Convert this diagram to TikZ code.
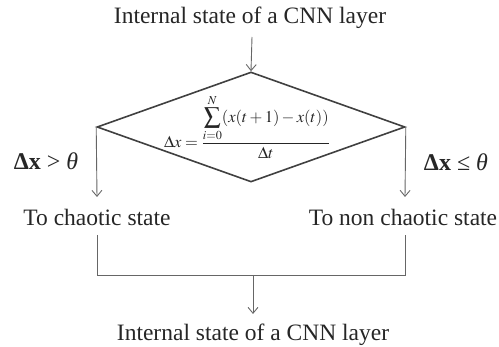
\documentclass[tikz,border=0pt]{standalone}
\usepackage{amsmath}
\usepackage{mathptmx}
\usepackage[no-math]{fontspec}
\setmainfont{Liberation Serif}
\usetikzlibrary{arrows.meta,shapes.geometric}
\begin{document}
\begin{tikzpicture}[x=1pt,y=-1pt,
  txt/.style={font=\fontsize{23.5}{27}\selectfont, text=black!85, inner sep=0pt},
  lab/.style={font=\fontsize{24}{28}\selectfont, text=black!85, inner sep=0pt},
  line/.style={draw=black!60, line width=0.9pt},
  arr/.style={line, -{Straight Barb[length=6pt,width=10pt]}},
  decision/.style={draw=black!75, line width=1.6pt, diamond, inner sep=0pt,
    minimum width=308pt, minimum height=110pt}]
\useasboundingbox (0,0) rectangle (499,347);
\node[txt] (top) at (250,18) {Internal state of a CNN layer};
\node[decision] (d) at (251,127) {};
\node[inner sep=0pt, font=\fontsize{16.5}{19}\selectfont, text=black!85] (f) at (247,127)
  {$\Delta x=\dfrac{\displaystyle\sum_{i=0}^{N}(x(t+1)-x(t))}{\Delta t}$};
\node[lab] (gt) at (46,161) {\textbf{Δx} > \textit{θ}};
\node[lab] (le) at (456,162) {\textbf{Δx} ≤ \textit{θ}};
\node[txt] (lt) at (97,217) {To chaotic state};
\node[txt] (rt) at (403,217) {To non chaotic state};
\node[txt] (bot) at (253,335) {Internal state of a CNN layer};
\coordinate (ltop) at (97,197);
\coordinate (rtop) at (405,197);
\coordinate (lbeg) at (97,235);
\coordinate (rbeg) at (405,235);
\coordinate (lc) at (97,275);
\coordinate (rc) at (405,275);
\coordinate (mc) at (253,275);
\coordinate (mend) at (253,314);
\coordinate (tbeg) at (252,37);
\draw[arr] (tbeg) -- (d.north);
\draw[arr] (d.west) -- (ltop);
\draw[arr] (d.east) -- (rtop);
\draw[line] (lbeg) -- (lc) -- (rc) -- (rbeg);
\draw[arr] (mc) -- (mend);
\end{tikzpicture}
\end{document}
